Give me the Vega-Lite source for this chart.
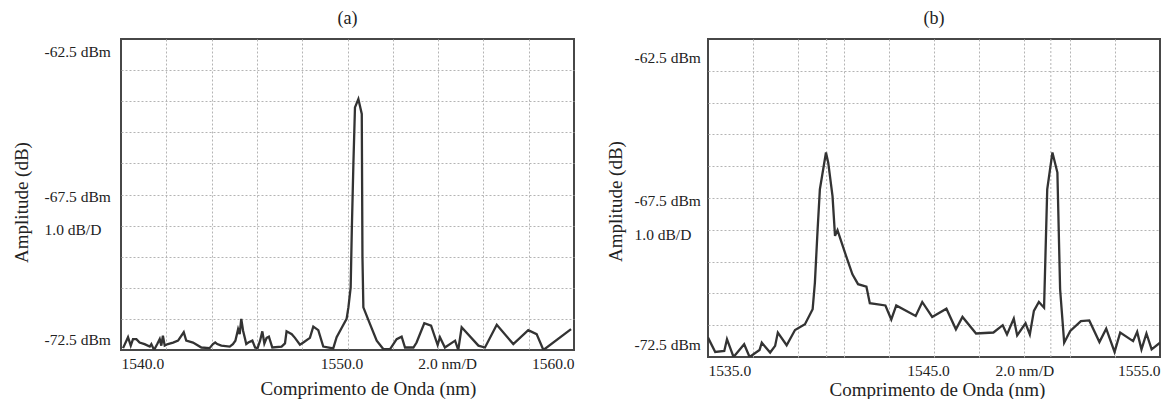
{
  "$schema": "https://vega.github.io/schema/vega-lite/v6.json",
  "background": "white",
  "padding": {"left": 11, "top": 8, "right": 0, "bottom": 0},
  "spacing": 30,
  "config": {
    "font": "Liberation Serif",
    "view": {"stroke": "#474747", "strokeWidth": 2},
    "axis": {
      "labelFont": "Liberation Serif", "labelFontSize": 15.5, "labelColor": "#222",
      "titleFont": "Liberation Serif", "titleFontSize": 19, "titleFontWeight": "normal", "titleColor": "#222",
      "domain": false, "ticks": false, "gridColor": "#b4b4b4", "gridDash": [2, 2], "gridWidth": 1,
      "labelOverlap": false
    },
    "title": {"font": "Liberation Serif", "fontSize": 18, "fontWeight": "normal", "color": "#222", "offset": 11}
  },
  "datasets": {
    "a": [
      {"wl": 1540.09, "db": -72.44}, {"wl": 1540.31, "db": -72.09}, {"wl": 1540.43, "db": -72.36}, {"wl": 1540.53, "db": -72.15},
      {"wl": 1540.68, "db": -72.15}, {"wl": 1540.82, "db": -72.26}, {"wl": 1541.04, "db": -72.31}, {"wl": 1541.27, "db": -72.39},
      {"wl": 1541.34, "db": -72.31}, {"wl": 1541.46, "db": -72.5}, {"wl": 1541.60, "db": -72.31}, {"wl": 1541.71, "db": -72.15},
      {"wl": 1541.78, "db": -72.36}, {"wl": 1541.85, "db": -72.04}, {"wl": 1541.93, "db": -72.36}, {"wl": 1542.07, "db": -72.31},
      {"wl": 1542.30, "db": -72.26}, {"wl": 1542.52, "db": -72.2}, {"wl": 1542.77, "db": -71.93}, {"wl": 1542.88, "db": -72.2},
      {"wl": 1543.18, "db": -72.26}, {"wl": 1543.55, "db": -72.42}, {"wl": 1543.91, "db": -72.44}, {"wl": 1544.06, "db": -72.31},
      {"wl": 1544.16, "db": -72.26}, {"wl": 1544.25, "db": -72.31}, {"wl": 1544.43, "db": -72.36}, {"wl": 1544.80, "db": -72.39},
      {"wl": 1544.94, "db": -72.31}, {"wl": 1545.05, "db": -72.2}, {"wl": 1545.17, "db": -71.83}, {"wl": 1545.24, "db": -71.99},
      {"wl": 1545.31, "db": -71.5}, {"wl": 1545.39, "db": -71.88}, {"wl": 1545.46, "db": -72.09}, {"wl": 1545.53, "db": -72.31},
      {"wl": 1545.62, "db": -72.26}, {"wl": 1545.80, "db": -72.2}, {"wl": 1545.92, "db": -72.42}, {"wl": 1546.03, "db": -72.44},
      {"wl": 1546.14, "db": -72.2}, {"wl": 1546.24, "db": -71.9}, {"wl": 1546.33, "db": -72.29}, {"wl": 1546.43, "db": -72.11},
      {"wl": 1546.53, "db": -72.07}, {"wl": 1546.68, "db": -72.42}, {"wl": 1547.09, "db": -72.39}, {"wl": 1547.24, "db": -72.29},
      {"wl": 1547.31, "db": -71.9}, {"wl": 1547.54, "db": -71.99}, {"wl": 1547.68, "db": -72.11}, {"wl": 1547.90, "db": -72.33},
      {"wl": 1548.05, "db": -72.26}, {"wl": 1548.34, "db": -72.11}, {"wl": 1548.49, "db": -71.75}, {"wl": 1548.71, "db": -71.86},
      {"wl": 1548.93, "db": -72.39}, {"wl": 1549.37, "db": -72.45}, {"wl": 1549.52, "db": -72.09}, {"wl": 1549.74, "db": -71.79},
      {"wl": 1549.96, "db": -71.5}, {"wl": 1550.04, "db": -71.13}, {"wl": 1550.14, "db": -70.49}, {"wl": 1550.19, "db": -68.66},
      {"wl": 1550.26, "db": -66.52}, {"wl": 1550.33, "db": -64.7}, {"wl": 1550.48, "db": -64.43}, {"wl": 1550.63, "db": -64.91},
      {"wl": 1550.66, "db": -69.5}, {"wl": 1550.70, "db": -71.13}, {"wl": 1550.99, "db": -71.66}, {"wl": 1551.29, "db": -72.2},
      {"wl": 1551.58, "db": -72.47}, {"wl": 1551.88, "db": -72.47}, {"wl": 1552.17, "db": -72.15}, {"wl": 1552.39, "db": -72.07},
      {"wl": 1552.54, "db": -72.42}, {"wl": 1552.91, "db": -72.42}, {"wl": 1553.05, "db": -72.26}, {"wl": 1553.39, "db": -71.64},
      {"wl": 1553.69, "db": -71.72}, {"wl": 1553.98, "db": -72.34}, {"wl": 1554.08, "db": -72.09}, {"wl": 1554.30, "db": -72.42},
      {"wl": 1554.75, "db": -72.2}, {"wl": 1554.89, "db": -72.5}, {"wl": 1555.04, "db": -71.77}, {"wl": 1555.78, "db": -72.36},
      {"wl": 1556.07, "db": -72.42}, {"wl": 1556.59, "db": -71.69}, {"wl": 1557.32, "db": -72.31}, {"wl": 1557.98, "db": -71.86},
      {"wl": 1558.35, "db": -71.99}, {"wl": 1558.65, "db": -72.5}, {"wl": 1559.87, "db": -71.83}
    ],
    "b": [
      {"wl": 1535.00, "db": -71.89}, {"wl": 1535.32, "db": -72.34}, {"wl": 1535.72, "db": -72.31}, {"wl": 1535.84, "db": -71.94},
      {"wl": 1536.13, "db": -72.5}, {"wl": 1536.60, "db": -72.10}, {"wl": 1536.84, "db": -72.5}, {"wl": 1537.28, "db": -72.28},
      {"wl": 1537.38, "db": -72.05}, {"wl": 1537.75, "db": -72.36}, {"wl": 1537.97, "db": -72.15}, {"wl": 1538.09, "db": -71.73},
      {"wl": 1538.48, "db": -72.13}, {"wl": 1538.85, "db": -71.65}, {"wl": 1539.29, "db": -71.47}, {"wl": 1539.63, "db": -71.00},
      {"wl": 1539.73, "db": -70.16}, {"wl": 1539.85, "db": -68.49}, {"wl": 1539.95, "db": -67.23}, {"wl": 1540.22, "db": -66.07},
      {"wl": 1540.32, "db": -66.39}, {"wl": 1540.51, "db": -67.44}, {"wl": 1540.62, "db": -68.69}, {"wl": 1540.73, "db": -68.51},
      {"wl": 1541.06, "db": -69.22}, {"wl": 1541.39, "db": -69.90}, {"wl": 1541.64, "db": -70.21}, {"wl": 1542.01, "db": -70.29},
      {"wl": 1542.16, "db": -70.81}, {"wl": 1542.85, "db": -70.88}, {"wl": 1543.11, "db": -71.32}, {"wl": 1543.33, "db": -70.88},
      {"wl": 1544.19, "db": -71.21}, {"wl": 1544.48, "db": -70.77}, {"wl": 1544.92, "db": -71.24}, {"wl": 1545.55, "db": -70.98},
      {"wl": 1545.97, "db": -71.63}, {"wl": 1546.26, "db": -71.24}, {"wl": 1546.86, "db": -71.76}, {"wl": 1547.63, "db": -71.73},
      {"wl": 1548.04, "db": -71.50}, {"wl": 1548.23, "db": -71.79}, {"wl": 1548.53, "db": -71.29}, {"wl": 1548.68, "db": -71.82},
      {"wl": 1549.05, "db": -71.44}, {"wl": 1549.24, "db": -71.79}, {"wl": 1549.42, "db": -71.05}, {"wl": 1549.64, "db": -70.77},
      {"wl": 1549.87, "db": -70.95}, {"wl": 1550.01, "db": -67.23}, {"wl": 1550.24, "db": -66.07}, {"wl": 1550.46, "db": -66.70},
      {"wl": 1550.58, "db": -70.37}, {"wl": 1550.76, "db": -72.05}, {"wl": 1551.03, "db": -71.68}, {"wl": 1551.50, "db": -71.37},
      {"wl": 1551.87, "db": -71.35}, {"wl": 1552.32, "db": -72.03}, {"wl": 1552.62, "db": -71.61}, {"wl": 1552.99, "db": -72.34},
      {"wl": 1553.24, "db": -71.73}, {"wl": 1553.81, "db": -72.00}, {"wl": 1553.99, "db": -71.71}, {"wl": 1554.18, "db": -72.26},
      {"wl": 1554.40, "db": -71.76}, {"wl": 1554.63, "db": -72.26}, {"wl": 1555.00, "db": -72.05}
    ],
    "markers": [{"wl": 1540.25}, {"wl": 1550.17}]
  },
  "hconcat": [
    {
      "title": "(a)",
      "width": 453,
      "height": 311,
      "data": {"name": "a"},
      "mark": {"type": "line", "color": "#333333", "strokeWidth": 2.3, "clip": true},
      "encoding": {
        "x": {
          "field": "wl", "type": "quantitative",
          "scale": {"domain": [1540, 1560], "nice": false, "zero": false},
          "axis": {
            "title": "Comprimento de Onda (nm)",
            "values": [1540, 1542, 1544, 1546, 1548, 1550, 1552, 1554, 1556, 1558, 1560],
            "labelExpr": "datum.value == 1540 ? '1540.0' : datum.value == 1550 ? '1550.0' : datum.value == 1554 ? '2.0 nm/D' : datum.value == 1560 ? '1560.0' : ''",
            "labelPadding": 6,
            "labelOffset": {"condition": [{"test": "datum.value == 1550", "value": -6}, {"test": "datum.value == 1554", "value": 9}], "value": 0},
            "gridOpacity": {"condition": {"test": "datum.value == 1540 || datum.value == 1560", "value": 0}, "value": 1},
            "titleX": 247, "titleY": 38, "titleBaseline": "middle"
          }
        },
        "y": {
          "field": "db", "type": "quantitative",
          "scale": {"domain": [-72.5, -62.5], "nice": false, "zero": false},
          "axis": {
            "title": "Amplitude (dB)",
            "values": [-72.5, -71.5, -70.5, -69.5, -68.5, -67.5, -66.5, -65.5, -64.5, -63.5, -62.5],
            "labelExpr": "datum.value == -62.5 ? '-62.5 dBm' : datum.value == -67.5 ? '-67.5 dBm' : datum.value == -68.5 ? '1.0 dB/D' : datum.value == -72.5 ? '-72.5 dBm' : ''",
            "labelFlush": false, "labelPadding": 77, "labelAlign": "left",
            "labelOffset": {"condition": [{"test": "datum.value == -62.5", "value": 12.5}, {"test": "datum.value == -72.5", "value": -11}, {"test": "datum.value == -68.5", "value": 4}], "value": 2},
            "gridOpacity": {"condition": {"test": "datum.value == -62.5 || datum.value == -72.5", "value": 0}, "value": 1},
            "titleX": -100, "titleY": 163, "titleBaseline": "middle"
          }
        }
      }
    },
    {
      "title": "(b)",
      "width": 452,
      "height": 318,
      "encoding": {
        "x": {
          "field": "wl", "type": "quantitative",
          "scale": {"domain": [1535, 1555], "nice": false, "zero": false},
          "axis": {
            "title": "Comprimento de Onda (nm)",
            "values": [1535, 1537, 1539, 1541, 1543, 1545, 1547, 1549, 1551, 1553, 1555],
            "labelExpr": "datum.value == 1535 ? '1535.0' : datum.value == 1545 ? '1545.0' : datum.value == 1549 ? '2.0 nm/D' : datum.value == 1555 ? '1555.0' : ''",
            "labelPadding": 6,
            "labelOffset": {"condition": {"test": "datum.value == 1545", "value": -6}, "value": 0},
            "gridOpacity": {"condition": {"test": "datum.value == 1535 || datum.value == 1555", "value": 0}, "value": 1},
            "titleX": 229, "titleY": 32, "titleBaseline": "middle"
          }
        }
      },
      "layer": [
        {
          "data": {"name": "markers"},
          "mark": {"type": "rule", "color": "#b4b4b4", "strokeDash": [2, 2], "strokeWidth": 1},
          "encoding": {}
        },
        {
          "data": {"name": "b"},
          "mark": {"type": "line", "color": "#333333", "strokeWidth": 2.3, "clip": true},
          "encoding": {
            "y": {
              "field": "db", "type": "quantitative",
              "scale": {"domain": [-72.5, -62.5], "nice": false, "zero": false},
              "axis": {
                "title": "Amplitude (dB)",
                "values": [-72.5, -71.5, -70.5, -69.5, -68.5, -67.5, -66.5, -65.5, -64.5, -63.5, -62.5],
                "labelExpr": "datum.value == -62.5 ? '-62.5 dBm' : datum.value == -67.5 ? '-67.5 dBm' : datum.value == -68.5 ? '1.0 dB/D' : datum.value == -72.5 ? '-72.5 dBm' : ''",
                "labelFlush": false, "labelPadding": 74, "labelAlign": "left",
                "labelOffset": {"condition": [{"test": "datum.value == -62.5", "value": 18}, {"test": "datum.value == -72.5", "value": -13}, {"test": "datum.value == -68.5", "value": 5}], "value": 2},
                "gridOpacity": {"condition": {"test": "datum.value == -62.5 || datum.value == -72.5", "value": 0}, "value": 1},
                "titleX": -93, "titleY": 162, "titleBaseline": "middle"
              }
            }
          }
        }
      ]
    }
  ]
}
